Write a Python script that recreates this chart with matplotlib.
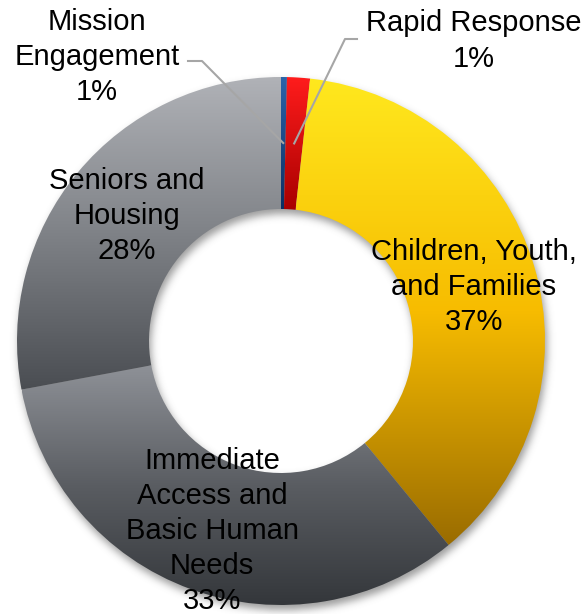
import numpy as np
import matplotlib
matplotlib.use("Agg")
import matplotlib.pyplot as plt
from matplotlib.colors import LinearSegmentedColormap

# ---- data ----
categories = ["Mission\nEngagement", "Rapid Response", "Children, Youth,\nand Families",
              "Immediate\nAccess and\nBasic Human\nNeeds", "Seniors and\nHousing"]
shares = [0.36, 1.4, 37.3, 33.0, 27.95]
pct_labels = ["1%", "1%", "37%", "33%", "28%"]

# ---- style ----
grad_colors = [
    ["#2B64AA", "#0C2F62"],
    ["#FF1C1C", "#A80000"],
    ["#FFE81E", "#F7BC00", "#9A6C00"],
    ["#8E9197", "#5A5D62", "#34373B"],
    ["#B0B2B7", "#7F8287", "#4A4D52"],
]
W, H = 587, 614
CX, CY = 281, H - 341
R_OUT, RING = 264, 132
label_pos = [(97, H - 57), (474, H - 41), (474, H - 287), (212, H - 531), (127, H - 216)]
leader_knee = {0: [(188, H - 61), (202, H - 61)], 1: [(357, H - 39), (345, H - 39)]}

plt.rcParams["font.family"] = ["Liberation Sans", "DejaVu Sans"]
fig = plt.figure(figsize=(W / 100, H / 100), dpi=100)
ax = fig.add_axes([0, 0, 1, 1])

# soft drop shadow
yy, xx = np.mgrid[0:H, 0:W]
xs, ys = xx + 0.5, (H - yy) - 0.5
d = np.hypot(xs - (CX + 2), ys - (CY - 5))
mask = ((d <= R_OUT) & (d >= R_OUT - RING)).astype(float)
k = np.exp(-0.5 * (np.arange(-12, 13) / 4.0) ** 2)
k /= k.sum()
blur = np.apply_along_axis(lambda r: np.convolve(r, k, mode="same"), 1, mask)
blur = np.apply_along_axis(lambda c: np.convolve(c, k, mode="same"), 0, blur)
shadow = np.zeros((H, W, 4))
shadow[..., :3] = 0.35
shadow[..., 3] = blur * 0.6
ax.imshow(shadow, extent=(0, W, 0, H), origin="upper", zorder=0, interpolation="bilinear")

wedges, _ = ax.pie(shares, center=(CX, CY), radius=R_OUT, startangle=90,
                   counterclock=False, wedgeprops=dict(width=RING, linewidth=0),
                   frame=True)
grad = np.linspace(0, 1, 256).reshape(-1, 1)
for w, cols in zip(wedges, grad_colors):
    w.set_facecolor("none")
    w.set_edgecolor("none")
    ext = w.get_path().get_extents()
    cmap = LinearSegmentedColormap.from_list("g", cols)
    im = ax.imshow(grad, cmap=cmap, extent=(ext.x0, ext.x1, ext.y0, ext.y1),
                   origin="upper", aspect="auto", zorder=2, interpolation="bilinear")
    im.set_clip_path(w)

# labels
for i, (cat, pct, pos) in enumerate(zip(categories, pct_labels, label_pos)):
    ax.text(pos[0], pos[1], f"{cat}\n{pct}", ha="center", va="center",
            fontsize=21, color="black", linespacing=1.32, zorder=5)

# leader lines to ring midpoints
for i, pts in leader_knee.items():
    w = wedges[i]
    mid = np.deg2rad((w.theta1 + w.theta2) / 2)
    rm = R_OUT - RING / 2
    end = (CX + rm * np.cos(mid), CY + rm * np.sin(mid))
    px = [p[0] for p in pts] + [end[0]]
    py = [p[1] for p in pts] + [end[1]]
    ax.plot(px, py, color="#A6A6A6", lw=1.5, zorder=4)

ax.set_xlim(0, W)
ax.set_ylim(0, H)
ax.set_aspect("auto")
ax.axis("off")
fig.savefig("out.png", dpi=100)
